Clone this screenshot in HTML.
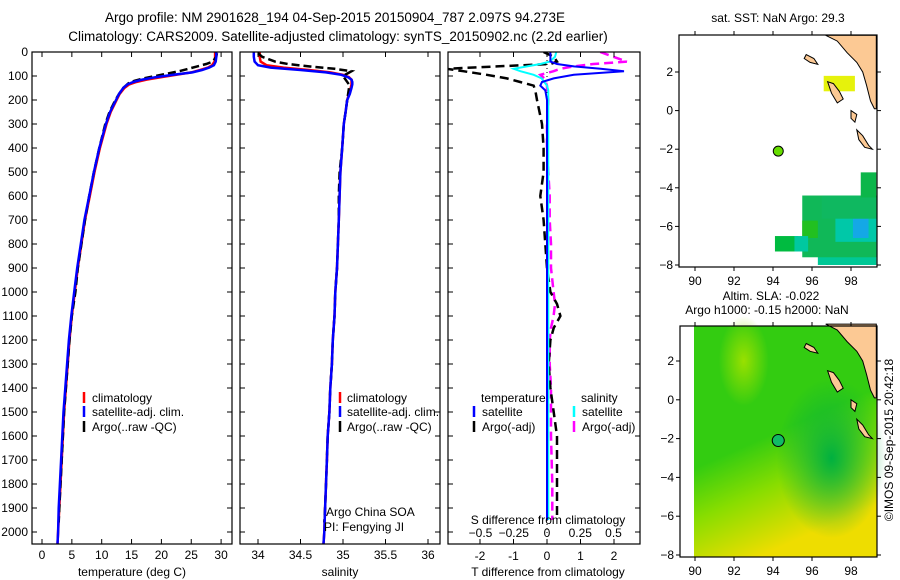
<!DOCTYPE html>
<html><head><meta charset="utf-8">
<style>
html,body{margin:0;padding:0;background:#fff;}
svg{display:block;font-family:"Liberation Sans",sans-serif;}
</style></head>
<body>
<svg id="fig" width="900" height="580" viewBox="0 0 900 580" xmlns="http://www.w3.org/2000/svg">
<text x="335" y="22" font-size="13.5" text-anchor="middle">Argo profile: NM 2901628_194 04-Sep-2015 20150904_787 2.097S 94.273E</text>
<text x="338" y="41" font-size="13.5" text-anchor="middle">Climatology: CARS2009. Satellite-adjusted climatology: synTS_20150902.nc (2.2d earlier)</text>
<g id="g1"></g>
<g id="g2"></g>
<g id="g3"></g>
<g id="m1"></g>
<g id="m2"></g>
<text transform="translate(893,440) rotate(-90)" font-size="12" text-anchor="middle">©IMOS 09-Sep-2015 20:42:18</text>
</svg>
<script>
// ---------- data ----------
const depthClim = [0,20,40,55,65,75,85,95,105,115,125,135,150,175,200,250,300,400,500,600,700,800,900,1000,1100,1200,1300,1400,1500,1600,1700,1800,1900,2000,2050];
const tempClim  = [29.0,29.0,28.9,28.5,27.8,26.5,25.0,22.5,20.0,17.5,15.8,14.6,13.8,13.0,12.5,11.5,10.8,9.7,8.8,8.0,7.2,6.6,6.0,5.5,5.0,4.6,4.3,4.0,3.7,3.5,3.3,3.1,2.9,2.7,2.6];
const tempSat   = [29.2,29.2,29.1,28.8,28.0,26.8,25.2,22.0,19.0,16.8,15.3,14.3,13.6,12.9,12.4,11.4,10.7,9.6,8.7,7.9,7.1,6.5,5.9,5.4,4.9,4.5,4.2,3.9,3.6,3.4,3.2,3.0,2.8,2.7,2.6];
const salClim   = [34.02,34.02,34.03,34.1,34.3,34.6,34.85,35.0,35.07,35.1,35.1,35.1,35.09,35.07,35.05,35.03,35.01,34.99,34.97,34.96,34.95,34.94,34.93,34.91,34.9,34.88,34.87,34.85,34.84,34.82,34.81,34.8,34.79,34.78,34.77];
const salSat    = [33.95,33.95,33.96,34.0,34.15,34.5,34.8,34.98,35.06,35.1,35.11,35.11,35.1,35.08,35.05,35.03,35.01,34.99,34.97,34.96,34.95,34.94,34.93,34.91,34.9,34.88,34.87,34.85,34.84,34.82,34.81,34.8,34.79,34.78,34.77];
const depthArgo = [5,20,40,50,60,70,80,90,100,110,120,130,150,175,200,250,300,400,500,600,700,800,900,1000,1100,1200,1300,1400,1500,1600,1700,1800,1900,1960];
const tempArgo  = [29.3,29.2,28.6,27.5,26.0,24.5,23.0,21.0,19.0,17.0,15.5,14.5,13.6,12.9,12.3,11.3,10.6,9.6,8.7,7.9,7.2,6.6,6.0,5.6,5.0,4.6,4.3,4.0,3.7,3.5,3.3,3.1,2.9,2.8];
const salArgo   = [34.0,34.05,34.2,34.35,34.6,34.9,35.1,35.05,35.0,35.02,35.04,35.06,35.07,35.06,35.05,35.03,35.01,34.99,34.96,34.95,34.95,34.94,34.93,34.91,34.9,34.88,34.87,34.85,34.84,34.82,34.81,34.8,34.79,34.78];
const depthDiff = [0,20,40,50,60,70,80,95,110,125,140,160,200,300,400,500,600,700,800,900,1000,1050,1100,1150,1200,1300,1400,1600,1800,1950];
const tdiffSat  = [0.1,0.1,0.1,0.3,0.8,1.6,2.3,0.8,0.2,-0.15,-0.2,-0.05,0,0,0,0,0,0,0,0,0,0,0,0,0,0,0,0,0,0];
const tdiffArgo = [-0.1,0.2,0.3,0.1,-1.5,-3.0,-2.5,-1.8,-1.2,-0.8,-0.4,-0.35,-0.3,-0.15,-0.1,-0.1,-0.2,-0.1,-0.05,0,0.1,0.3,0.4,0.2,0.1,0.05,0.1,0.3,0.3,0.3];
const sdiffSat  = [0.07,0.06,0.02,-0.05,-0.15,-0.25,-0.2,-0.1,-0.04,-0.02,0,0.01,0.01,0.01,0.01,0.01,0.01,0.01,0.01,0.01,0.01,0.01,0.01,0.01,0.01,0.01,0.01,0.01,0.01,0.01];
const sdiffArgo = [0.4,0.5,0.6,0.35,0.2,0.1,0.05,-0.05,-0.02,-0.01,0,0,0.01,0,0,0.01,0.02,0.02,0.03,0.03,0.05,0.06,0.05,0.03,0.02,0.02,0.03,0.03,0.04,0.04];
const depthTicks = [0,100,200,300,400,500,600,700,800,900,1000,1100,1200,1300,1400,1500,1600,1700,1800,1900,2000];
const tempTicks = [0,5,10,15,20,25,30];
const salTicks = [34,34.5,35,35.5,36];
const tdTicks = [-2,-1,0,1,2];
const sdTicks = [-0.5,-0.25,0,0.25,0.5];
const latTicks = [2,0,-2,-4,-6,-8];
const lonTicks = [90,92,94,96,98];

const NS="http://www.w3.org/2000/svg";
function mk(par,tag,at){const e=document.createElementNS(NS,tag);for(const k in at)e.setAttribute(k,at[k]);par.appendChild(e);return e;}
const yD = d => 52 + d*0.24;
function poly(par,xs,ds,fx,stroke,w,dash){
  const pts=xs.map((v,i)=>fx(v).toFixed(1)+","+yD(ds[i]).toFixed(1)).join(" ");
  const a={points:pts,fill:"none",stroke:stroke,"stroke-width":w};
  if(dash)a["stroke-dasharray"]=dash;
  return mk(par,"polyline",a);
}
function frame(g,x0,x1,y0,y1){
  const r=mk(g,"rect",{x:x0,y:y0,width:x1-x0,height:y1-y0,fill:"none",stroke:"#000","stroke-width":1.2});
  
  
}
function depthAxis(g,x0,x1,labels){
  depthTicks.forEach(d=>{
    const y=yD(d);
    mk(g,"line",{x1:x0,y1:y,x2:x0+5,y2:y,stroke:"#000"});
    mk(g,"line",{x1:x1,y1:y,x2:x1-5,y2:y,stroke:"#000"});
    if(labels){const t=mk(g,"text",{x:x0-4,y:y+4,"font-size":12,"text-anchor":"end"});t.textContent=d;
      
      }
  });
}
function xAxis(g,ticks,fx,y0,y1,ly,top){
  ticks.forEach(v=>{
    const x=fx(v);
    mk(g,"line",{x1:x,y1:y1,x2:x,y2:y1-5,stroke:"#000"});
    if(top) mk(g,"line",{x1:x,y1:y0,x2:x,y2:y0+5,stroke:"#000"});
    const t=mk(g,"text",{x:x,y:ly,"font-size":12,"text-anchor":"middle"});t.textContent=String(v);
    
    
  });
}
function label(g,x,y,s,name,anchor){const t=mk(g,"text",{x:x,y:y,"font-size":12,"text-anchor":anchor||"start"});t.textContent=s;
  
  return t;}
function legMark(g,x,y,c,dash){mk(g,"line",{x1:x,y1:y-10,x2:x,y2:y+1,stroke:c,"stroke-width":2.5});}

// ---------- panel 1 ----------
const g1=document.getElementById("g1");
const fxT = t => 42 + t*5.97;
poly(g1,tempClim,depthClim,fxT,"#f00",2.5);
poly(g1,tempArgo,depthArgo,fxT,"#000",2.5,"8,4");
poly(g1,tempSat,depthClim,fxT,"#00f",2.5);
frame(g1,32,232,52,544);
depthAxis(g1,32,232,true);
xAxis(g1,tempTicks,fxT,52,544,559,true);
label(g1,132,576,"temperature (deg C)","x-axis-title","middle");
legMark(g1,84,402,"#f00");label(g1,92,402,"climatology","legend-climatology");
legMark(g1,84,416,"#00f");label(g1,92,416,"satellite-adj. clim.","legend-satellite");
legMark(g1,84,431,"#000");label(g1,92,431,"Argo(..raw -QC)","legend-argo");

// ---------- panel 2 ----------
const g2=document.getElementById("g2");
const fxS = s => 258 + (s-34)*85;
poly(g2,salClim,depthClim,fxS,"#f00",2.5);
poly(g2,salArgo,depthArgo,fxS,"#000",2.5,"8,4");
poly(g2,salSat,depthClim,fxS,"#00f",2.5);
frame(g2,240,440,52,544);
depthAxis(g2,240,440,false);
xAxis(g2,salTicks,fxS,52,544,559,true);
label(g2,340,576,"salinity","x-axis-title","middle");
legMark(g2,340,402,"#f00");label(g2,347,402,"climatology","legend-climatology");
legMark(g2,340,416,"#00f");label(g2,347,416,"satellite-adj. clim.","legend-satellite");
legMark(g2,340,431,"#000");label(g2,347,431,"Argo(..raw -QC)","legend-argo");
label(g2,326,516,"Argo China SOA","institution-label");
label(g2,324,531,"PI: Fengying JI","pi-label");

// ---------- panel 3 ----------
const g3=document.getElementById("g3");
const cg=mk(g3,"g",{"clip-path":"url(#c3)"});
const cp=mk(mk(g3,"defs",{}),"clipPath",{id:"c3"});mk(cp,"rect",{x:448,y:52,width:192,height:492});
const fxTD = v => 547 + v*33.5;
const fxSD = v => 547 + v*133;
mk(cg,"line",{x1:547,y1:52,x2:547,y2:544,stroke:"#000","stroke-dasharray":"1,3"});
poly(cg,sdiffArgo,depthDiff,fxSD,"#f0f",2.5,"9,5");
poly(cg,tdiffArgo,depthDiff,fxTD,"#000",2.5,"9,5");
poly(cg,sdiffSat,depthDiff,fxSD,"#0ff",2);
poly(cg,tdiffSat,depthDiff,fxTD,"#00f",2);
frame(g3,448,640,52,544);
depthAxis(g3,448,640,false);
xAxis(g3,tdTicks,fxTD,52,544,560,true);
sdTicks.forEach(v=>{const t=label(g3,fxSD(v),537,String(v===0?"0":v).replace("-","−"),"s-tick-label","middle");});
label(g3,548,524,"S difference from climatology","s-axis-title","middle");
label(g3,548,576,"T difference from climatology","t-axis-title","middle");
label(g3,481,402,"temperature","legend-temperature-header");
legMark(g3,474,416,"#00f");label(g3,482,416,"satellite","legend-t-satellite");
legMark(g3,474,431,"#000");label(g3,482,431,"Argo(-adj)","legend-t-argo");
label(g3,581,402,"salinity","legend-salinity-header");
legMark(g3,574,416,"#0ff");label(g3,582,416,"satellite","legend-s-satellite");
legMark(g3,574,431,"#f0f");label(g3,582,431,"Argo(-adj)","legend-s-argo");

// ---------- maps ----------
function mapAxes(g,x0,x1,y0,y1,lon0,lonS,lat0,latS){
  latTicks.forEach(v=>{const y=lat0+(2-v)*latS;mk(g,"line",{x1:x0,y1:y,x2:x0-4,y2:y,stroke:"#000"});mk(g,"line",{x1:x1,y1:y,x2:x1+4,y2:y,stroke:"#000"});
    label(g,x0-6,y+4,String(v).replace("-","−"),"lat-tick-label","end");});
  lonTicks.forEach(v=>{const x=lon0+(v-90)*lonS;mk(g,"line",{x1:x,y1:y1,x2:x,y2:y1+4,stroke:"#000"});mk(g,"line",{x1:x,y1:y0,x2:x,y2:y0-4,stroke:"#000"});
    label(g,x,y1+18,String(v),"lon-tick-label","middle");});
}
function land(g,fx,fy){
  const c="#fcc994";
  const sh=[
   [[96.7,3.9],[97.3,3.6],[97.8,3.0],[98.3,2.5],[98.6,2.0],[98.8,1.3],[99.0,0.5],[99.2,0.1],[99.3,0.1],[99.3,3.9]],
   [[95.7,2.9],[96.1,2.7],[96.3,2.4],[95.9,2.5],[95.6,2.7]],
   [[96.8,1.5],[97.1,1.4],[97.4,1.0],[97.6,0.6],[97.3,0.4],[97.0,0.9]],
   [[98.0,-0.0],[98.3,-0.2],[98.2,-0.6],[98.0,-0.4]],
   [[98.3,-1.0],[98.6,-1.3],[98.9,-1.8],[99.1,-2.0],[98.7,-1.9],[98.4,-1.5]]
  ];
  sh.forEach(s=>{const p=mk(g,"polygon",{points:s.map(q=>fx(q[0]).toFixed(1)+","+fy(q[1]).toFixed(1)).join(" "),fill:c,stroke:"#000","stroke-width":1});
    
    });
}
// map1
const m1=document.getElementById("m1");
const fx1=v=>695+(v-90)*19.5, fy1=v=>72+(2-v)*19.3;
label(m1,778,22,"sat. SST: NaN Argo: 29.3","sst-map-title","middle");
const sstCells=[[96.6,1.0,1.6,0.8,"#e6f20c"],[96.3,-8,3.0,1.3,"#00c896"],[95.5,-7.6,3.8,3.2,"#10b858"],[97.2,-6.8,2.1,1.5,"#00c8a8"],[98.1,-6.6,0.8,1.0,"#14a8e6"],[94.1,-7.3,1.2,0.8,"#00bb40"],[96.5,-5.6,2.8,1.2,"#0fb860"],[98.5,-4.5,0.8,1.3,"#0cb64a"],[95.5,-6.6,0.8,0.9,"#22c020"],[95.1,-7.3,0.7,0.8,"#00c8a0"]];
sstCells.forEach(c=>{const r=mk(m1,"rect",{x:fx1(c[0]),y:fy1(c[1]+c[3]),width:c[2]*19.5,height:c[3]*19.3,fill:c[4]});
  
  });
land(m1,fx1,fy1);
mk(m1,"circle",{cx:fx1(94.27),cy:fy1(-2.1),r:5,fill:"#66dd00",stroke:"#000"});
frame(m1,679,877,35,267);
mapAxes(m1,679,877,35,267,695,19.5,72,19.3);
// map2
const m2=document.getElementById("m2");
const fx2=v=>695+(v-90)*19.5, fy2=v=>361+(2-v)*19.4;
label(m2,771,300,"Altim. SLA: -0.022","sla-map-title-1","middle");
label(m2,767,314,"Argo h1000: -0.15 h2000: NaN","sla-map-title-2","middle");
const dfs=mk(m2,"defs",{});
const lg=mk(dfs,"linearGradient",{id:"slag",x1:0,y1:0,x2:0.35,y2:1});
[[0,"#33cc11"],[0.55,"#33cc11"],[0.75,"#88dd00"],[1,"#eedd00"]].forEach(s=>mk(lg,"stop",{offset:s[0],"stop-color":s[1]}));
const rg=mk(dfs,"radialGradient",{id:"slar",cx:0.5,cy:0.5,r:0.5});
mk(rg,"stop",{offset:0,"stop-color":"#00b040"});mk(rg,"stop",{offset:1,"stop-color":"#00b040","stop-opacity":0});
const rg2=mk(dfs,"radialGradient",{id:"slay",cx:0.5,cy:0.5,r:0.5});
mk(rg2,"stop",{offset:0,"stop-color":"#99e000"});mk(rg2,"stop",{offset:1,"stop-color":"#99e000","stop-opacity":0});
mk(m2,"rect",{x:694,y:326,width:183,height:231,fill:"url(#slag)"});
mk(m2,"ellipse",{cx:fx2(97),cy:fy2(-3),rx:55,ry:80,fill:"url(#slar)"});
mk(m2,"ellipse",{cx:fx2(92.5),cy:fy2(2),rx:25,ry:45,fill:"url(#slay)"});
land(m2,fx2,fy2);
mk(m2,"circle",{cx:fx2(94.27),cy:fy2(-2.1),r:6,fill:"#11bb66",stroke:"#000"});
frame(m2,680,877,326,557);
mapAxes(m2,680,877,326,557,695,19.5,361,19.4);
</script>
</body></html>
